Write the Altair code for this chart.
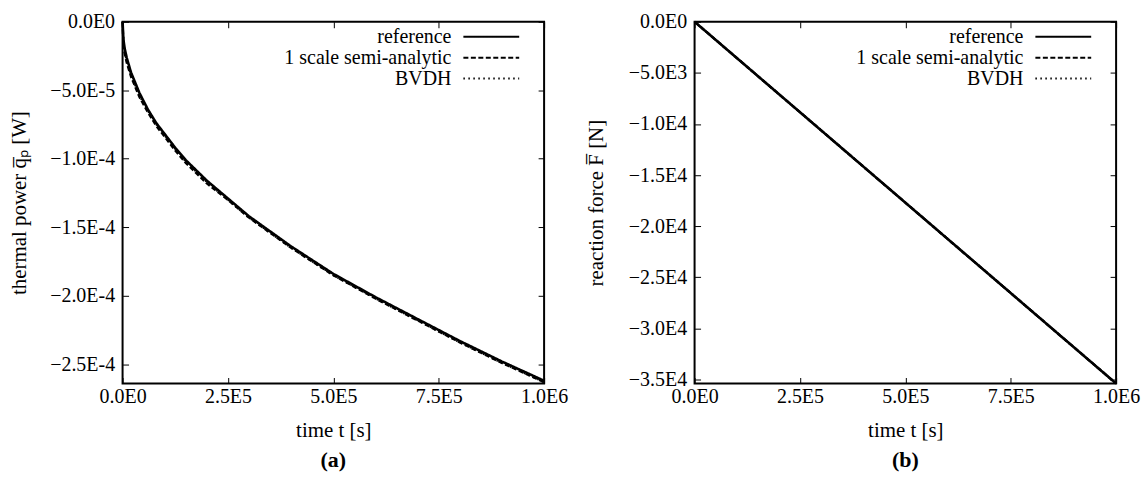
import altair as alt
import pandas as pd

SERIES = ["reference", "1 scale semi-analytic", "BVDH"]

# panel (a): thermal power vs time
t_a = [0, 2e3, 5e3, 1e4, 2e4, 4e4, 6e4, 8e4, 1e5, 1.25e5, 1.5e5, 2e5, 2.5e5,
       3e5, 3.5e5, 4e5, 5e5, 6e5, 7e5, 8e5, 9e5, 1e6]
ref_a = [0, -1.3e-5, -1.95e-5, -2.65e-5, -3.7e-5, -5.2e-5, -6.4e-5, -7.4e-5, -8.2e-5,
         -9.2e-5, -1.01e-4, -1.16e-4, -1.29e-4, -1.42e-4, -1.53e-4, -1.64e-4,
         -1.84e-4, -2.01e-4, -2.17e-4, -2.33e-4, -2.48e-4, -2.62e-4]
semi_a = [0, -1.6e-5, -2.3e-5, -3.0e-5, -4.0e-5, -5.5e-5, -6.6e-5, -7.6e-5, -8.4e-5,
          -9.4e-5, -1.03e-4, -1.18e-4, -1.30e-4, -1.43e-4, -1.54e-4, -1.65e-4,
          -1.85e-4, -2.02e-4, -2.18e-4, -2.34e-4, -2.49e-4, -2.63e-4]
bvdh_a = [0, -1.5e-5, -2.2e-5, -2.9e-5, -3.9e-5, -5.4e-5, -6.5e-5, -7.5e-5, -8.3e-5,
          -9.3e-5, -1.02e-4, -1.17e-4, -1.30e-4, -1.43e-4, -1.54e-4, -1.65e-4,
          -1.85e-4, -2.02e-4, -2.18e-4, -2.34e-4, -2.49e-4, -2.63e-4]

# panel (b): reaction force vs time
t_b = [0, 2.5e5, 5e5, 7.5e5, 1e6]
ref_b = [0, -8850, -17700, -26550, -35400]
semi_b = [0, -8850, -17700, -26550, -35400]
bvdh_b = [0, -8850, -17700, -26550, -35400]

x_ticks = [0, 2.5e5, 5e5, 7.5e5, 1e6]
y_ticks_a = [0, -5e-5, -1e-4, -1.5e-4, -2e-4, -2.5e-4]
y_ticks_b = [0, -5e3, -1e4, -1.5e4, -2e4, -2.5e4, -3e4, -3.5e4]

W, H = 423, 363
FONT = "Liberation Serif"
TICK = 6
LABEL_EXPR = "replace(replace(format(datum.value, '.1e'), 'e+', 'E'), 'e', 'E')"
# horizontal line sample, 56 px long when symbolSize=400 (unit radius = 10 px)
LINE_SYMBOL = "M-2.8,0H2.8"


def frame(t, series_vals):
    rows = []
    for name, vals in zip(SERIES, series_vals):
        for tt, v in zip(t, vals):
            rows.append({"t": tt, "v": v, "series": name})
    return pd.DataFrame(rows)


def panel(df, ydomain, yticks, ytitle, caption, ytitle_pad):
    x = alt.X("t:Q", scale=alt.Scale(domain=[0, 1e6], nice=False, zero=False),
              axis=alt.Axis(values=x_ticks, labelExpr=LABEL_EXPR, title="time t [s]",
                            grid=True, gridDash=[TICK, H - 2 * TICK, TICK, 3000],
                            gridColor="black", gridWidth=1, gridOpacity=1,
                            ticks=False, domain=False, labelPadding=3, titlePadding=13,
                            labelFlush=False))
    y = alt.Y("v:Q", scale=alt.Scale(domain=ydomain, nice=False, zero=False),
              axis=alt.Axis(values=yticks, labelExpr=LABEL_EXPR, title=ytitle,
                            grid=True, gridDash=[TICK, W - 2 * TICK, TICK, 3000],
                            gridColor="black", gridWidth=1, gridOpacity=1,
                            ticks=False, domain=False, labelPadding=8,
                            titlePadding=ytitle_pad, labelFlush=False))
    return alt.Chart(df).mark_line(color="black", strokeCap="butt").encode(
        x=x, y=y,
        strokeDash=alt.StrokeDash(
            "series:N",
            scale=alt.Scale(domain=SERIES, range=[[1, 0], [5, 2.5], [1.5, 3.5]]),
            legend=alt.Legend(orient="none", legendX=W - 64, legendY=4,
                              title=None,
                              labelAlign="right", labelOffset={"expr": "-51"},
                              symbolType=LINE_SYMBOL, symbolSize=400,
                              symbolStrokeWidth=2, symbolStrokeColor="black",
                              symbolFillColor="transparent",
                              labelFont=FONT, labelFontSize=20, labelColor="black",
                              rowPadding=0, labelLimit=400)),
        strokeWidth=alt.StrokeWidth("series:N",
                                    scale=alt.Scale(domain=SERIES, range=[2.6, 2, 2]),
                                    legend=None),
    ).properties(width=W, height=H,
                 title=alt.TitleParams(caption, orient="bottom", font=FONT, fontSize=22,
                                       fontWeight="bold", color="black", offset=10))


left = panel(frame(t_a, [ref_a, semi_a, bvdh_a]), [-2.64e-4, 0], y_ticks_a,
             "thermal power q\u0305\u209a [W]", "(a)", 20)
right = panel(frame(t_b, [ref_b, semi_b, bvdh_b]), [-3.54e4, 0], y_ticks_b,
              "reaction force F\u0305 [N]", "(b)", 22)

chart = alt.hconcat(left, right, spacing=15).resolve_legend(
    strokeDash="independent").resolve_scale(strokeDash="independent").configure(
    padding={"left": 7, "top": 10, "right": 5, "bottom": 5}
).configure_view(stroke="black", strokeWidth=2).configure_axis(
    labelFont=FONT, labelFontSize=20, labelColor="black",
    titleFont=FONT, titleFontSize=21, titleFontWeight="normal", titleColor="black")

chart.save("out.html", embed_options={"renderer": "svg", "actions": False})
